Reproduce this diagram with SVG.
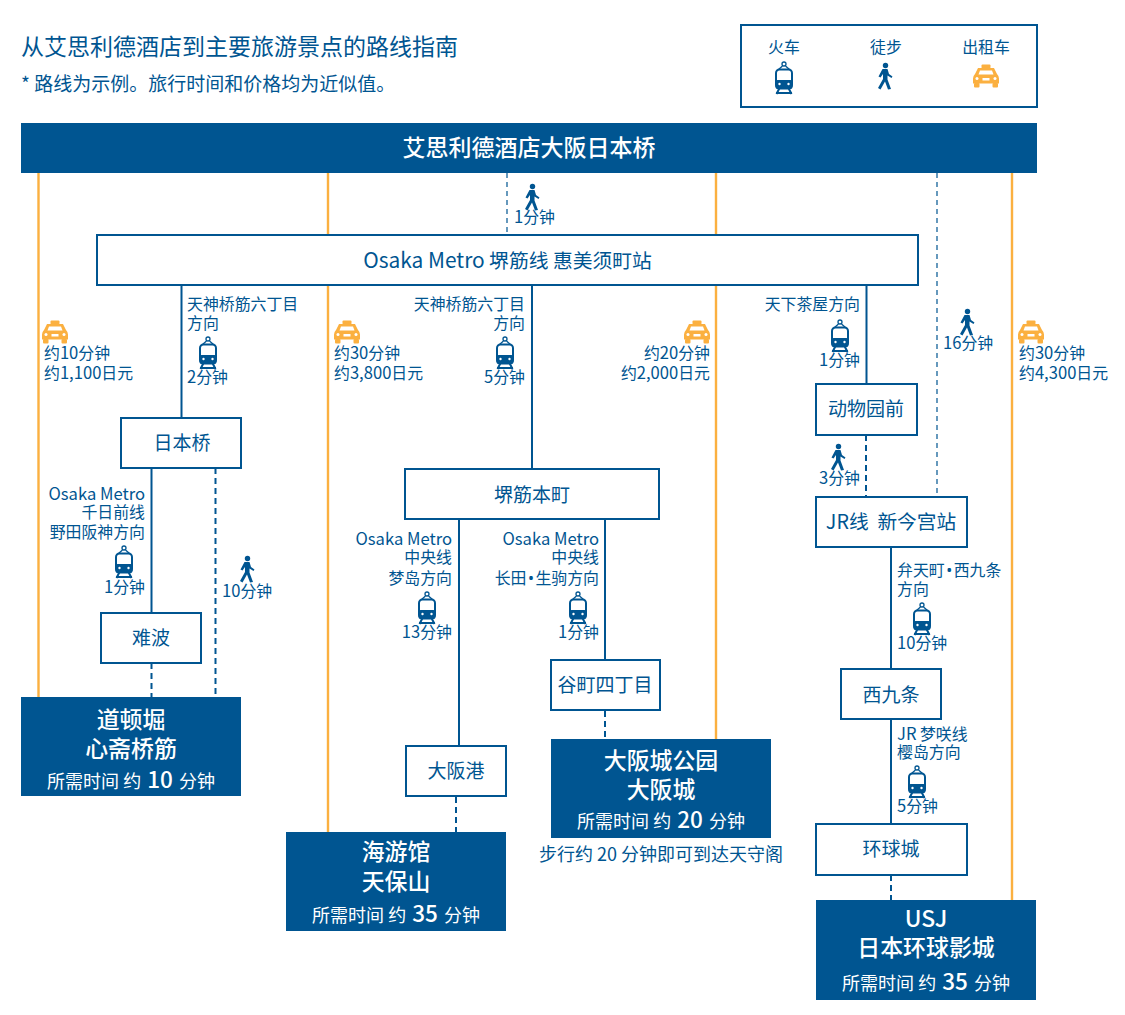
<svg xmlns="http://www.w3.org/2000/svg" width="1125" height="1015" viewBox="0 0 1125 1015">
<style>
text{font-family:"Noto Sans CJK SC","Noto Sans",sans-serif;fill:#005591}
.l{font-size:15.900px}
.lat,.l tspan.lat{font-size:16.600px}
.bu{font-family:"Noto Sans",sans-serif}
.m{text-anchor:middle}
.e{text-anchor:end}
.b{font-size:19px;text-anchor:middle}
.box{fill:#fff;stroke:#005591;stroke-width:2}
.dark{fill:#005591}
.w{fill:#fff;text-anchor:middle}
.t1{font-size:22.900px;font-weight:500}
.t2{font-size:18px}
.t2 .n{font-size:22.500px;font-weight:500}
.o{stroke:#fbb040;stroke-width:2.400;fill:none}
.s{stroke:#005591;stroke-width:2;fill:none}
.d{stroke:#005591;stroke-width:2;fill:none;stroke-dasharray:6 4}
.d1{stroke:#005591;stroke-width:1.200;fill:none;stroke-dasharray:5 4}
</style>
<defs>
<symbol id="train" viewBox="-10 -17 20 34" overflow="visible">
<circle cx="0" cy="-14" r="2" fill="none" stroke="#005591" stroke-width="1.300"/>
<path d="M-5.500 -8.500L-1.500 -12M5.500 -8.500L1.500 -12" stroke="#005591" stroke-width="1.300" fill="none"/>
<rect x="-8" y="-8.500" width="16" height="19" rx="3.500" fill="none" stroke="#005591" stroke-width="2"/>
<rect x="-8.500" y="2" width="17" height="9" rx="2" fill="#005591"/>
<path d="M-4.500 10L-7.500 16M4.500 10L7.500 16M-8 15H8" stroke="#005591" stroke-width="2" fill="none"/>
<circle cx="-4.500" cy="6" r="1.200" fill="#fff"/><circle cx="4.500" cy="6" r="1.200" fill="#fff"/>
</symbol>
<symbol id="walk" viewBox="-9 -14 18 28" overflow="visible">
<circle cx="0.500" cy="-10.500" r="2.700" fill="#005591"/>
<path d="M-2.500 -7L2.500 -7L4 -2L7.500 0.500L6.500 2L2.500 -0.500L2.500 3.500L6 13L3 13.500L0 5.500L-4.500 13.500L-7 12L-2 3L-2 -2L-4.500 1.500L-6.500 0.500Z" fill="#005591"/>
</symbol>
<symbol id="taxi" viewBox="-13 -12 26 24" overflow="visible">
<rect x="-4.500" y="-11.500" width="9" height="4" rx="1" fill="#fbb040"/>
<path d="M-8 -8H8L11 -2Q13 0 13 2.500V7.500H-13V2.500Q-13 0 -11 -2Z" fill="#fbb040"/>
<path d="M-6 -5.500H6L7.500 -1.500H-7.500Z" fill="#fff"/>
<rect x="-12" y="7" width="5.500" height="4.500" rx="1" fill="#fbb040"/><rect x="6.500" y="7" width="5.500" height="4.500" rx="1" fill="#fbb040"/>
<circle cx="-9" cy="2.500" r="1.500" fill="#fff"/><circle cx="9" cy="2.500" r="1.500" fill="#fff"/>
<rect x="-3.500" y="2" width="7" height="2.500" fill="#fff"/>
</symbol>
</defs>

<g id="title">
<text x="21" y="55" font-size="23">从艾思利德酒店到主要旅游景点的路线指南</text>
<text x="21" y="91" font-size="19">* 路线为示例。旅行时间和价格均为近似值。</text>
</g>

<g id="legend">
<rect x="741" y="25" width="296" height="82" fill="#fff" stroke="#005591" stroke-width="2"/>
<text class="l m" x="784" y="53">火车</text>
<text class="l m" x="886" y="53">徒步</text>
<text class="l m" x="986" y="53">出租车</text>
<use href="#train" x="774" y="61" width="20" height="34"/>
<use href="#walk" x="876" y="62" width="18" height="28"/>
<use href="#taxi" x="973" y="64" width="26" height="24"/>
</g>

<g id="connectors">
<path class="o" d="M38.500 173V697M328 173V235M328 285V832M716 173V235M716 285V739M1012 173V900"/>
<path class="d1" d="M507 173V235M937 173V497"/>
<path class="s" d="M181.500 285V418M532 285V469M866.500 285V384M151.500 468V613M459 519V746M605 519V660M891 547V669M891 719V824"/>
<path class="d" d="M215.500 468V697M151.500 663V697M866 435V497M456 797V832M605 711V739M891 875V900"/>
</g>

<g id="hotel"><rect class="dark" x="21" y="123" width="1016" height="50"/><text class="w" x="529" y="156" font-size="23" font-weight="500">艾思利德酒店大阪日本桥</text></g>
<g id="metro"><rect class="box" x="97" y="235" width="821" height="50"/><text class="b" x="507.500" y="268" style="font-size:19.800px"><tspan style="font-size:20.900px">Osaka Metro</tspan> 堺筋线 惠美须町站</text></g>
<g id="nipponbashi"><rect class="box" x="121" y="418" width="120" height="50"/><text class="b" x="182" y="450">日本桥</text></g>
<g id="namba"><rect class="box" x="101" y="613" width="100" height="50"/><text class="b" x="151" y="645">难波</text></g>
<g id="sakaisuji"><rect class="box" x="405" y="469" width="254" height="50"/><text class="b" x="532" y="502">堺筋本町</text></g>
<g id="tanimachi"><rect class="box" x="551" y="660" width="109" height="50"/><text class="b" x="605" y="692">谷町四丁目</text></g>
<g id="osakako"><rect class="box" x="406" y="746" width="100" height="50"/><text class="b" x="456" y="778">大阪港</text></g>
<g id="zoo"><rect class="box" x="816" y="384" width="101" height="51"/><text class="b" x="866" y="416">动物园前</text></g>
<g id="shinimamiya"><rect class="box" x="816" y="497" width="151" height="50"/><text class="b" x="891" y="529" style="font-size:19.700px">JR线&#160; 新今宫站</text></g>
<g id="nishikujo"><rect class="box" x="841" y="669" width="100" height="50"/><text class="b" x="891" y="702">西九条</text></g>
<g id="universal"><rect class="box" x="816" y="824" width="151" height="51"/><text class="b" x="891" y="856">环球城</text></g>

<g id="dotonbori"><rect class="dark" x="21" y="697" width="220" height="99"/>
<text class="w t1" x="131" y="728">道顿堀</text><text class="w t1" x="131" y="757">心斋桥筋</text>
<text class="w t2" x="131" y="788">所需时间 约 <tspan class="n" dx="2">10</tspan><tspan dx="2"> 分钟</tspan></text></g>
<g id="kaiyukan"><rect class="dark" x="286" y="832" width="220" height="99"/>
<text class="w t1" x="396" y="860">海游馆</text><text class="w t1" x="396" y="890">天保山</text>
<text class="w t2" x="396" y="922">所需时间 约 <tspan class="n" dx="2">35</tspan><tspan dx="2"> 分钟</tspan></text></g>
<g id="castle"><rect class="dark" x="551" y="739" width="220" height="99"/>
<text class="w t1" x="661" y="769">大阪城公园</text><text class="w t1" x="661" y="798">大阪城</text>
<text class="w t2" x="661" y="828">所需时间 约 <tspan class="n" dx="2">20</tspan><tspan dx="2"> 分钟</tspan></text></g>
<g id="usj"><rect class="dark" x="816" y="900" width="220" height="100"/>
<text class="w t1" x="926" y="927">USJ</text><text class="w t1" x="926" y="956">日本环球影城</text>
<text class="w t2" x="926" y="990">所需时间 约 <tspan class="n" dx="2">35</tspan><tspan dx="2"> 分钟</tspan></text></g>

<g id="labels">
<text class="m" x="661" y="861" font-size="18">步行约 20 分钟即可到达天守阁</text>
<use href="#walk" x="523" y="183" width="18" height="28"/><text class="l" x="514" y="223"><tspan class="lat">1</tspan>分钟</text>

<use href="#taxi" x="42" y="320" width="26" height="24"/>
<text class="l" x="44" y="359">约<tspan class="lat">10</tspan>分钟</text><text class="l" x="44" y="379">约<tspan class="lat">1,100</tspan>日元</text>
<text class="l" x="187" y="310">天神桥筋六丁目</text><text class="l" x="187" y="329">方向</text>
<use href="#train" x="198" y="336" width="20" height="34"/><text class="l" x="187" y="383"><tspan class="lat">2</tspan>分钟</text>

<use href="#taxi" x="334" y="320" width="26" height="24"/>
<text class="l" x="334" y="359">约<tspan class="lat">30</tspan>分钟</text><text class="l" x="334" y="379">约<tspan class="lat">3,800</tspan>日元</text>
<text class="l e" x="525" y="310">天神桥筋六丁目</text><text class="l e" x="525" y="329">方向</text>
<use href="#train" x="495" y="336" width="20" height="34"/><text class="l e" x="525" y="383"><tspan class="lat">5</tspan>分钟</text>

<use href="#taxi" x="684" y="320" width="26" height="24"/>
<text class="l e" x="710" y="359">约<tspan class="lat">20</tspan>分钟</text><text class="l e" x="710" y="379">约<tspan class="lat">2,000</tspan>日元</text>
<text class="l e" x="860" y="310">天下茶屋方向</text>
<use href="#train" x="830" y="319" width="20" height="34"/><text class="l e" x="860" y="366"><tspan class="lat">1</tspan>分钟</text>
<use href="#walk" x="958" y="308" width="18" height="28"/><text class="l" x="943" y="349"><tspan class="lat">16</tspan>分钟</text>
<use href="#taxi" x="1018" y="320" width="26" height="24"/>
<text class="l" x="1019" y="359">约<tspan class="lat">30</tspan>分钟</text><text class="l" x="1019" y="379">约<tspan class="lat">4,300</tspan>日元</text>

<text class="lat e" x="145" y="500">Osaka Metro</text><text class="l e" x="145" y="518">千日前线</text><text class="l e" x="145" y="538">野田阪神方向</text>
<use href="#train" x="114" y="545" width="20" height="34"/><text class="l e" x="145" y="593"><tspan class="lat">1</tspan>分钟</text>
<use href="#walk" x="238" y="555" width="18" height="28"/><text class="l" x="222" y="597"><tspan class="lat">10</tspan>分钟</text>

<text class="lat e" x="452" y="545">Osaka Metro</text><text class="l e" x="452" y="563">中央线</text><text class="l e" x="452" y="584">梦岛方向</text>
<use href="#train" x="417" y="591" width="20" height="34"/><text class="l e" x="452" y="638"><tspan class="lat">13</tspan>分钟</text>
<text class="lat e" x="599" y="545">Osaka Metro</text><text class="l e" x="599" y="563">中央线</text><text class="l e" x="599" y="584">长田<tspan class="bu" dx="1.500">•</tspan><tspan dx="1.500">生驹方向</tspan></text>
<use href="#train" x="568" y="591" width="20" height="34"/><text class="l e" x="599" y="638"><tspan class="lat">1</tspan>分钟</text>

<use href="#walk" x="829" y="443" width="18" height="28"/><text class="l e" x="860" y="484"><tspan class="lat">3</tspan>分钟</text>
<text class="l" x="897" y="576">弁天町<tspan class="bu" dx="1.500">•</tspan><tspan dx="1.500">西九条</tspan></text><text class="l" x="897" y="595">方向</text>
<use href="#train" x="912" y="602" width="20" height="34"/><text class="l" x="897" y="649"><tspan class="lat">10</tspan>分钟</text>
<text class="l" x="897" y="740"><tspan class="lat">JR</tspan> 梦咲线</text><text class="l" x="897" y="758">樱岛方向</text>
<use href="#train" x="907" y="765" width="20" height="34"/><text class="l" x="897" y="812"><tspan class="lat">5</tspan>分钟</text>
</g>
</svg>
